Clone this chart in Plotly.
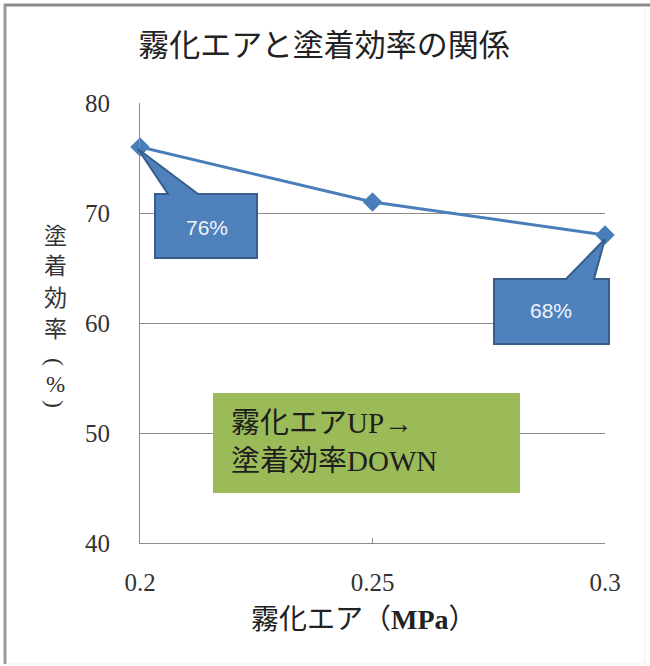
import plotly.graph_objects as go

# Atomising air pressure (MPa) vs. transfer efficiency (%)
air_pressure = [0.2, 0.25, 0.3]
efficiency = [76, 71, 68]
x_ticks = [0.2, 0.25, 0.3]
x_tick_labels = ["0.2", "0.25", "0.3"]
y_ticks = [40, 50, 60, 70, 80]
x_range = [0.2, 0.3]
y_range = [40, 80]

W, H = 650, 666
L, R, T, B = 140, 45, 103, 123
PW, PH = W - L - R, H - T - B

SERIF = "Liberation Serif, Noto Sans CJK JP, serif"
LINE_BLUE = "#4A7EBB"
BOX_BLUE = "#4F81BD"
BOX_EDGE = "#385D8A"
GREEN = "#9BBB59"
GRID = "#8C8C8C"


def px_x(px):
    return (px - L) / PW


def px_y(py):
    return (H - B - py) / PH


def frac(v, rng):
    return (v - rng[0]) / (rng[1] - rng[0])


fig = go.Figure()
fig.add_trace(go.Scatter(
    x=air_pressure, y=efficiency, mode="lines+markers",
    line=dict(color=LINE_BLUE, width=3),
    marker=dict(symbol="diamond", size=15, color=LINE_BLUE),
    cliponaxis=False, showlegend=False, hoverinfo="skip",
))

shapes = []
annotations = []


def callout(i, box, wedge, text_shift):
    """Speech-bubble label, drawn in pixel offsets from data point i."""
    bx0, bx1, by0, by1 = box
    w0, w1, tx, ty = wedge
    path = (f"M {bx0},{by0} L {w0},{by0} L {tx},{ty} L {w1},{by0} "
            f"L {bx1},{by0} L {bx1},{by1} L {bx0},{by1} Z")
    ax = frac(air_pressure[i], x_range)
    ay = frac(efficiency[i], y_range)
    shapes.append(dict(
        type="path", xref="paper", yref="paper",
        xsizemode="pixel", ysizemode="pixel", xanchor=ax, yanchor=ay,
        path=path, fillcolor=BOX_BLUE, line=dict(color=BOX_EDGE, width=2),
        layer="above",
    ))
    annotations.append(dict(
        x=ax, y=ay, xref="paper", yref="paper",
        xanchor="center", yanchor="middle",
        xshift=text_shift[0], yshift=text_shift[1], showarrow=False,
        text=f"{efficiency[i]}%",
        font=dict(family="Liberation Sans, Arial, sans-serif", size=21, color="#EEF3FA"),
    ))


callout(0, (15, 117, -47, -111), (28, 58, -2, -2), (67, -80))
callout(2, (-111, 4, -44, -109), (-39, -11, 0, -4), (-54, -75))

# border of the chart area
shapes.append(dict(type="line", xref="paper", yref="paper",
                   x0=px_x(4), x1=px_x(650), y0=px_y(5), y1=px_y(5),
                   line=dict(color="#8A8A8A", width=3), layer="below"))
shapes.append(dict(type="line", xref="paper", yref="paper",
                   x0=px_x(5), x1=px_x(5), y0=px_y(4), y1=px_y(664),
                   line=dict(color="#9A9A9A", width=3), layer="below"))
shapes.append(dict(type="line", xref="paper", yref="paper",
                   x0=px_x(645), x1=px_x(645), y0=px_y(6), y1=px_y(664),
                   line=dict(color="#EDEDED", width=1), layer="below"))
shapes.append(dict(type="line", xref="paper", yref="paper",
                   x0=px_x(6), x1=px_x(645), y0=px_y(664), y1=px_y(664),
                   line=dict(color="#EDEDED", width=1), layer="below"))

# green note box
shapes.append(dict(type="rect", xref="paper", yref="paper",
                   x0=px_x(213), x1=px_x(520), y0=px_y(493), y1=px_y(393),
                   fillcolor=GREEN, line=dict(width=0), layer="above"))
annotations.append(dict(
    x=px_x(229), y=px_y(442), xref="paper", yref="paper",
    xanchor="left", yanchor="middle", align="left", showarrow=False,
    text="霧化エアUP→<br>塗着効率DOWN",
    font=dict(family=SERIF, size=29, color="#1E1E1E"),
))

# vertical y-axis title, one glyph per row; brackets turned sideways
y_title = [("塗", 236, 0), ("着", 266, 0), ("効", 298, 0), ("率", 329, 0),
           ("(", 362, 90), ("%", 384, 0), (")", 404, 90)]
for ch, py, ang in y_title:
    annotations.append(dict(
        x=px_x(55), y=px_y(py), xref="paper", yref="paper",
        xanchor="center", yanchor="middle", showarrow=False, text=ch,
        textangle=ang,
        font=dict(family=SERIF, size=23 if ang == 0 else 24, color="#333333"),
    ))

# x-axis title
annotations.append(dict(
    x=px_x(364), y=px_y(619), xref="paper", yref="paper",
    xanchor="center", yanchor="middle", showarrow=False,
    text="霧化エア（<b>MPa</b>）",
    font=dict(family=SERIF, size=28, color="#222222"),
))

fig.update_layout(
    width=W, height=H,
    margin=dict(l=L, r=R, t=T, b=B),
    paper_bgcolor="white", plot_bgcolor="white",
    title=dict(text="霧化エアと塗着効率の関係", x=px_x(324), xref="paper",
               xanchor="center", y=1 - 45 / H, yanchor="middle",
               font=dict(family=SERIF, size=31, color="#222222")),
    xaxis=dict(
        range=x_range, tickvals=x_ticks, ticktext=x_tick_labels,
        showgrid=False, zeroline=False, showline=True, linecolor=GRID, linewidth=1,
        ticks="inside", ticklen=5, tickcolor=GRID, ticklabelstandoff=17,
        tickfont=dict(family=SERIF, size=25, color="#333333"),
    ),
    yaxis=dict(
        range=y_range, tickvals=y_ticks,
        showgrid=True, gridcolor=GRID, gridwidth=1, zeroline=False,
        showline=True, linecolor=GRID, linewidth=1, ticks="",
        ticklabelstandoff=24,
        tickfont=dict(family=SERIF, size=25, color="#333333"),
    ),
    shapes=shapes, annotations=annotations,
)

fig.write_html("out.html")
